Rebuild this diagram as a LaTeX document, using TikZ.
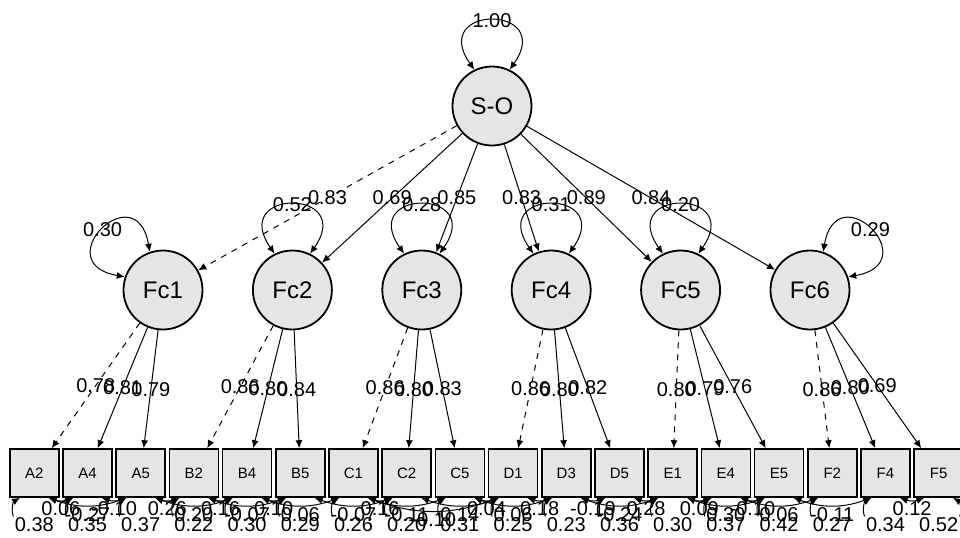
\documentclass[tikz,border=0pt]{standalone}
\usepackage{fontspec}
\setmainfont{Liberation Sans}
\usetikzlibrary{arrows.meta}

\begin{document}
\begin{tikzpicture}[node distance=26.6pt, line width=0.5pt,
    >={Latex[length=4pt,width=3.5pt]},
    latent/.style={circle, draw, line width=0.9pt, fill=gray!20, minimum size=39.5pt, inner sep=0pt, font=\fontsize{12}{14}\selectfont},
    obs/.style={rectangle, draw, line width=0.8pt, fill=gray!20, minimum width=24.5pt, minimum height=24pt, inner sep=0pt, font=\fontsize{7.5}{9}\selectfont},
    lbl/.style={inner sep=0.5pt, font=\fontsize{10}{12}\selectfont}]

\useasboundingbox (-246pt,-215.5pt) rectangle (234pt,53pt);

% Second-order factor
\node[latent] (so) {S-O};

% First-order factors
\node[latent, node distance=92pt, below of=so, xshift=-164.5pt] (fc1) {Fc1};
\node[latent, node distance=92pt, below of=so, xshift=-99.8pt] (fc2) {Fc2};
\node[latent, node distance=92pt, below of=so, xshift=-35.1pt] (fc3) {Fc3};
\node[latent, node distance=92pt, below of=so, xshift=29.6pt] (fc4) {Fc4};
\node[latent, node distance=92pt, below of=so, xshift=94.3pt] (fc5) {Fc5};
\node[latent, node distance=92pt, below of=so, xshift=159pt] (fc6) {Fc6};

% Indicators
\node[obs, node distance=91.5pt, below of=fc1, xshift=-64.35pt] (A2) {A2};
\node[obs, right of=A2] (A4) {A4};
\node[obs, right of=A4] (A5) {A5};
\node[obs, right of=A5] (B2) {B2};
\node[obs, right of=B2] (B4) {B4};
\node[obs, right of=B4] (B5) {B5};
\node[obs, right of=B5] (C1) {C1};
\node[obs, right of=C1] (C2) {C2};
\node[obs, right of=C2] (C5) {C5};
\node[obs, right of=C5] (D1) {D1};
\node[obs, right of=D1] (D3) {D3};
\node[obs, right of=D3] (D5) {D5};
\node[obs, right of=D5] (E1) {E1};
\node[obs, right of=E1] (E4) {E4};
\node[obs, right of=E4] (E5) {E5};
\node[obs, right of=E5] (F2) {F2};
\node[obs, right of=F2] (F4) {F4};
\node[obs, right of=F4] (F5) {F5};

% Factor variances
\draw[<->] (so.116) .. controls +(125:40pt) and +(55:40pt) .. (so.64) node[lbl, pos=.5] {1.00};
\draw[<->] (fc1.161) .. controls +(170:40pt) and +(100:40pt) .. (fc1.109) node[lbl, pos=.5] {0.30};
\draw[<->] (fc2.116) .. controls +(125:40pt) and +(55:40pt) .. (fc2.64) node[lbl, pos=.5] {0.52};
\draw[<->] (fc3.116) .. controls +(125:40pt) and +(55:40pt) .. (fc3.64) node[lbl, pos=.5] {0.28};
\draw[<->] (fc4.116) .. controls +(125:40pt) and +(55:40pt) .. (fc4.64) node[lbl, pos=.5] {0.31};
\draw[<->] (fc5.116) .. controls +(125:40pt) and +(55:40pt) .. (fc5.64) node[lbl, pos=.5] {0.20};
\draw[<->] (fc6.71) .. controls +(80:40pt) and +(10:40pt) .. (fc6.19) node[lbl, pos=.5] {0.29};

% Second-order loadings
\draw[->, dashed] (so) -- node[lbl] {0.83} (fc1);
\draw[->] (so) -- node[lbl] {0.69} (fc2);
\draw[->] (so) -- node[lbl] {0.85} (fc3);
\draw[->] (so) -- node[lbl] {0.83} (fc4);
\draw[->] (so) -- node[lbl] {0.89} (fc5);
\draw[->] (so) -- node[lbl] {0.84} (fc6);

% First-order loadings
\draw[->, dashed] (fc1) -- node[lbl] {0.78} (A2);
\draw[->] (fc1) -- node[lbl] {0.81} (A4);
\draw[->] (fc1) -- node[lbl] {0.79} (A5);
\draw[->, dashed] (fc2) -- node[lbl] {0.86} (B2);
\draw[->] (fc2) -- node[lbl] {0.80} (B4);
\draw[->] (fc2) -- node[lbl] {0.84} (B5);
\draw[->, dashed] (fc3) -- node[lbl] {0.86} (C1);
\draw[->] (fc3) -- node[lbl] {0.80} (C2);
\draw[->] (fc3) -- node[lbl] {0.83} (C5);
\draw[->, dashed] (fc4) -- node[lbl] {0.86} (D1);
\draw[->] (fc4) -- node[lbl] {0.80} (D3);
\draw[->] (fc4) -- node[lbl] {0.82} (D5);
\draw[->, dashed] (fc5) -- node[lbl] {0.80} (E1);
\draw[->] (fc5) -- node[lbl] {0.79} (E4);
\draw[->] (fc5) -- node[lbl] {0.76} (E5);
\draw[->, dashed] (fc6) -- node[lbl] {0.86} (F2);
\draw[->] (fc6) -- node[lbl] {0.80} (F4);
\draw[->] (fc6) -- node[lbl] {0.69} (F5);

% Error variances
\foreach \b/\v in {A2/0.38, A4/0.35, A5/0.37, B2/0.22, B4/0.30, B5/0.29,
                   C1/0.26, C2/0.20, C5/0.31, D1/0.25, D3/0.23, D5/0.36,
                   E1/0.30, E4/0.37, E5/0.42, F2/0.27, F4/0.34} {
  \node[lbl, node distance=26pt, below of=\b] (v\b) {\v};
  \draw[->] (v\b.north west) to[bend left=40] (\b.-120);
}
\node[lbl, node distance=26pt, below of=F5] (vF5) {0.52};
\draw[->] (vF5.north east) to[bend right=40] (F5.-60);

% Error covariances
\foreach \a/\b/\v in {A2/A4/0.06, A2/A5/-0.27, A4/A5/-0.10, A5/B2/0.26,
                      A5/B4/0.20, B2/B4/0.16, B2/B5/-0.07, B4/B5/0.10,
                      B4/C1/0.06, B5/C2/-0.07, C1/C2/0.16, C1/C5/-0.11,
                      C1/D1/-0.10, C2/D1/0.14, C5/D1/0.04, C5/D3/0.06,
                      D1/D3/0.18, D3/D5/-0.19, D3/E1/-0.24, D5/E1/0.28,
                      E1/E4/0.09, E1/E5/0.30, E4/E5/-0.10, E4/F2/0.06,
                      E5/F4/-0.11, F4/F5/0.12}
  \draw[<->] (\a.-60) to[bend right=20] node[lbl, below] {\v} (\b.-120);

\end{tikzpicture}
\end{document}
